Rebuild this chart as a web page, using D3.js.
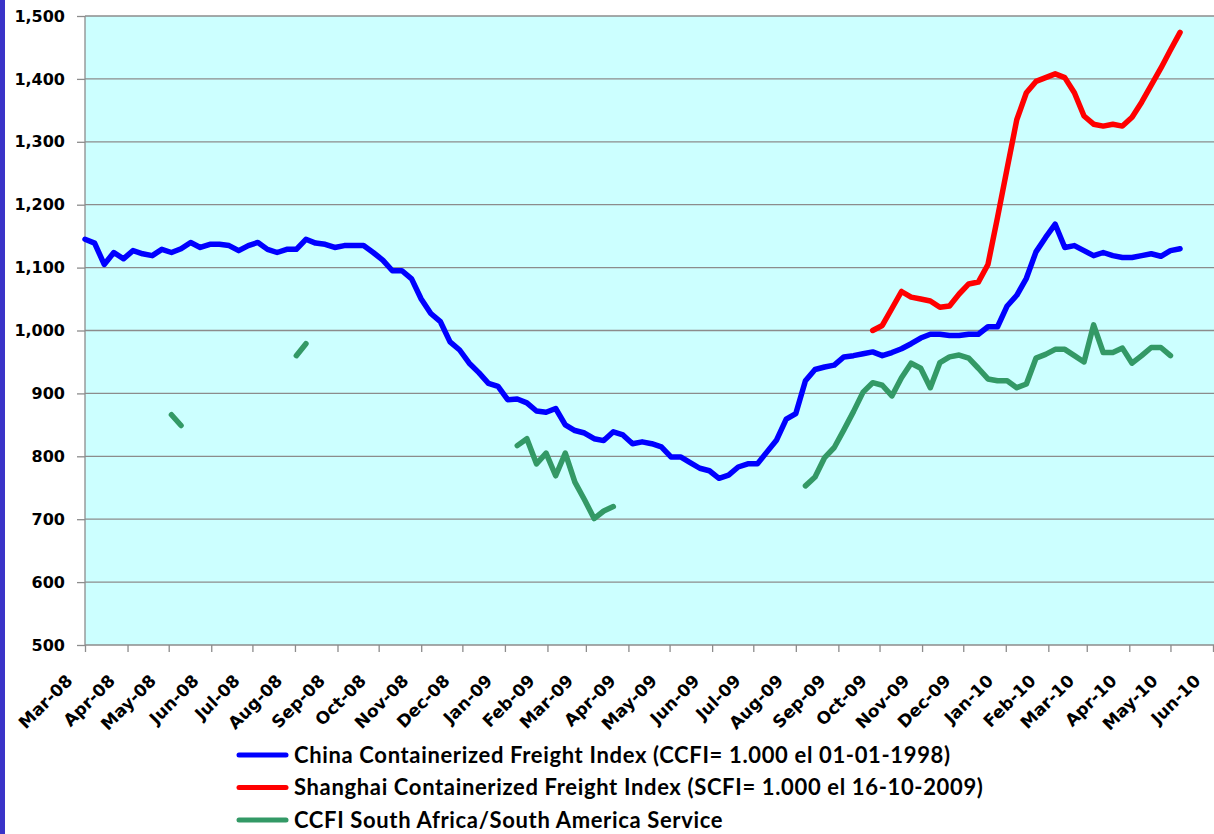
<!DOCTYPE html>
<html>
<head>
<meta charset="utf-8">
<script src="https://cdn.jsdelivr.net/npm/d3@7"></script>
<style>
  body { margin: 0; background: #fff; }
  svg { display: block; }
  .grid line { stroke: #8c8c8c; stroke-width: 1.3; }
  .axis path, .axis line { stroke: #8c8c8c; stroke-width: 1.3; }
  .axis text { font-family: "DejaVu Sans", sans-serif; font-weight: bold; font-size: 16px; fill: #000; }
  .axis.x text { font-size: 17px; }
  .legend text { font-family: Lato, "Open Sans", sans-serif; font-weight: bold; font-size: 22px; letter-spacing: 0.65px; fill: #000; }
</style>
</head>
<body>
<div id="chart"></div>
<script>
//
// weekly readings, first week = start of Mar-08
var firstWeek = new Date(2008, 2, 1);

var ccfi = [1145,1139,1105,1124,1114,1127,1122,1119,1129,1124,
  1130,1140,1132,1137,1137,1135,1127,1135,1140,1129,
  1124,1129,1129,1145,1139,1137,1132,1135,1135,1135,
  1124,1112,1095,1095,1082,1050,1027,1014,982,969,
  948,933,916,911,890,891,885,872,870,876,
  850,841,837,828,825,839,834,820,823,820,
  815,799,799,790,781,777,765,770,783,788,
  788,807,826,859,868,920,938,942,945,958,
  960,963,966,960,965,971,979,988,994,994,
  992,992,994,994,1006,1006,1039,1056,1083,1125,
  1148,1169,1132,1135,1127,1119,1124,1119,1116,1116,
  1119,1122,1118,1127,1130];

var scfi = [null,null,null,null,null,null,null,null,null,null,
  null,null,null,null,null,null,null,null,null,null,
  null,null,null,null,null,null,null,null,null,null,
  null,null,null,null,null,null,null,null,null,null,
  null,null,null,null,null,null,null,null,null,null,
  null,null,null,null,null,null,null,null,null,null,
  null,null,null,null,null,null,null,null,null,null,
  null,null,null,null,null,null,null,null,null,null,
  null,null,1000,1008,1035,1062,1053,1050,1047,1037,
  1039,1058,1074,1077,1105,1180,1258,1335,1378,1396,
  1402,1408,1402,1378,1341,1328,1325,1328,1325,1339,
  1363,1390,1417,1446,1474];

var southAm = [null,null,null,null,null,null,null,null,null,866,
  849,null,null,null,null,null,null,null,null,null,
  null,null,960,979,null,null,null,null,null,null,
  null,null,null,null,null,null,null,null,null,null,
  null,null,null,null,null,817,828,788,805,769,
  805,759,731,701,713,720,null,null,null,null,
  null,null,null,null,null,null,null,null,null,null,
  null,null,null,null,null,753,767,798,814,842,
  871,902,917,913,896,925,948,940,909,949,
  958,961,956,940,923,920,920,909,915,956,
  962,970,970,960,950,1009,965,965,972,948,
  960,973,973,960,null];

var yTicks = [500,600,700,800,900,1000,1100,1200,1300,1400,1500];
var monthTicks = ['Mar-08','Apr-08','May-08','Jun-08','Jul-08','Aug-08','Sep-08','Oct-08','Nov-08','Dec-08',
  'Jan-09','Feb-09','Mar-09','Apr-09','May-09','Jun-09','Jul-09','Aug-09','Sep-09','Oct-09','Nov-09','Dec-09',
  'Jan-10','Feb-10','Mar-10','Apr-10','May-10','Jun-10'];
var seriesNames = ['China Containerized Freight Index (CCFI= 1.000 el 01-01-1998)',
  'Shanghai Containerized Freight Index (SCFI= 1.000 el 16-10-2009)',
  'CCFI South Africa/South America Service'];
var seriesColors = ['#0000ff', '#ff0000', '#339966'];

//
// sizes
var width = 1214, height = 834,
    plot = { left: 85, right: 1213, top: 16, bottom: 645 };

var svg = d3.select('#chart').append('svg')
  .attr('width', width).attr('height', height);

var parseMonth = d3.timeParse('%b-%y'),
    fmtMonth = d3.timeFormat('%b-%y'),
    monthDates = monthTicks.map(parseMonth);

var x = d3.scaleTime()
  .domain([monthDates[0], monthDates[monthDates.length - 1]])
  .range([plot.left, plot.right]);
var y = d3.scaleLinear().domain([500, 1500]).range([plot.bottom, plot.top]);

var weekDate = function(i) { return d3.timeDay.offset(firstWeek, 7 * i); };

// left stripe
svg.append('rect').attr('x', 0).attr('y', 0).attr('width', 5).attr('height', height)
  .attr('fill', '#3a33c8');

// plot background
svg.append('rect')
  .attr('x', plot.left).attr('y', plot.top)
  .attr('width', plot.right - plot.left + 1).attr('height', plot.bottom - plot.top)
  .attr('fill', '#ccffff');

// grid
svg.append('g').attr('class', 'grid')
  .selectAll('line').data(yTicks.slice(1)).enter().append('line')
  .attr('x1', plot.left).attr('x2', width)
  .attr('y1', function(d) { return y(d); })
  .attr('y2', function(d) { return y(d); });

// y axis
var yAxis = svg.append('g').attr('class', 'axis y')
  .attr('transform', 'translate(' + plot.left + ',0)')
  .call(d3.axisLeft(y).tickValues(yTicks).tickSize(8).tickPadding(12)
    .tickFormat(d3.format(',')));
yAxis.select('.domain').attr('d', 'M0,' + plot.top + 'V' + plot.bottom);

// x axis
var xAxis = svg.append('g').attr('class', 'axis x')
  .attr('transform', 'translate(0,' + plot.bottom + ')')
  .call(d3.axisBottom(x).tickValues(monthDates).tickSize(7).tickFormat(fmtMonth));
xAxis.select('.domain').attr('d', 'M' + plot.left + ',0H' + width);
xAxis.selectAll('text')
  .attr('text-anchor', 'end')
  .attr('x', 0).attr('y', 0).attr('dy', 0)
  .attr('transform', 'translate(-12,37) rotate(-45)');

// series
var line = d3.line()
  .defined(function(d) { return d != null; })
  .x(function(d, i) { return x(weekDate(i)); })
  .y(function(d) { return y(d); });

[[southAm, 2], [ccfi, 0], [scfi, 1]].forEach(function(s) {
  svg.append('path')
    .attr('d', line(s[0]))
    .attr('fill', 'none')
    .attr('stroke', seriesColors[s[1]])
    .attr('stroke-width', 5.5)
    .attr('stroke-linejoin', 'round')
    .attr('stroke-linecap', 'round');
});

// legend
var legend = svg.append('g').attr('class', 'legend')
  .attr('transform', 'translate(237,755)');
var rows = legend.selectAll('g').data(seriesNames).enter().append('g')
  .attr('transform', function(d, i) { return 'translate(0,' + (i * 32.5) + ')'; });
rows.append('line')
  .attr('x1', 2).attr('x2', 49).attr('y1', 0).attr('y2', 0)
  .attr('stroke', function(d, i) { return seriesColors[i]; })
  .attr('stroke-width', 5).attr('stroke-linecap', 'round');
rows.append('text')
  .attr('x', 57).attr('dy', '0.36em')
  .text(function(d) { return d; });
</script>
</body>
</html>
